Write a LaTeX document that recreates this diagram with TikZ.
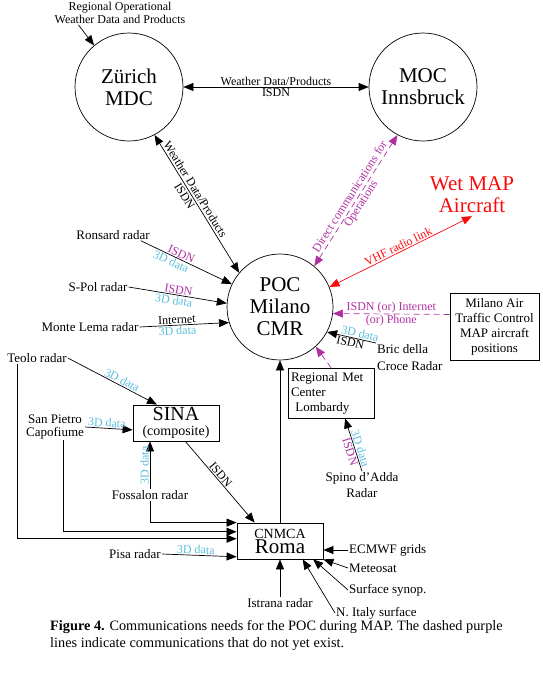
\documentclass[tikz,border=0pt]{standalone}
\usepackage{fontspec}
\setmainfont{Liberation Serif}
\usepackage{tikz}
\usetikzlibrary{arrows.meta, positioning}
\definecolor{mypurple}{RGB}{176,48,160}
\definecolor{mycyan}{RGB}{90,190,220}
\definecolor{myred}{RGB}{250,10,10}
\newcommand{\bigfont}{\fontsize{21}{22}\selectfont}
\newcommand{\txtfont}{\fontsize{13}{15}\selectfont}
\newcommand{\lblfont}{\fontsize{12}{13}\selectfont}
\tikzset{
  station/.style={circle, draw, line width=0.7pt, minimum size=108pt,
    inner sep=0pt, align=center, font=\bigfont},
  box/.style={rectangle, draw, line width=0.8pt, align=center,
    inner sep=2pt, font=\txtfont},
  source/.style={inner sep=1pt, align=center, font=\txtfont},
  planned/.style={color=mypurple, line width=0.7pt, dash pattern=on 6pt off 4pt},
  link/.style={line width=0.7pt},
  isdn/.style={font=\lblfont, text=mypurple, inner sep=1pt},
  data/.style={font=\lblfont, text=mycyan, inner sep=1pt},
  lbl/.style={font=\lblfont, inner sep=1pt}
}

\begin{document}
\begin{tikzpicture}[x=1pt, y=-1pt, >={Triangle[length=10pt,width=8pt]}]
  \useasboundingbox (0,0) rectangle (543,681);

  % Centres
  \node[station] (zurich) at (129,87) {Zürich\\MDC};
  \node[station] (moc) at (423,87) {MOC\\Innsbruck};
  \node[station, minimum size=106pt] (poc) at (280,307) {POC\\Milano\\CMR};
  \node[font=\bigfont, text=myred, align=center, inner sep=3pt] (wet) at (472,195) {Wet MAP\\Aircraft};
  \node[box, minimum width=89pt, minimum height=67pt] (atc) at (494.5,326.5)
    {Milano Air\\Traffic Control\\MAP aircraft\\positions};
  \node[box, minimum width=86pt, minimum height=50pt, text width=80pt, align=left] (rmc) at (331,393)
    {Regional Met\\Center\\\ Lombardy};
  \node[box, minimum width=86pt, minimum height=36pt, inner sep=0pt] (sina) at (176,423)
    {{\fontsize{20}{20}\selectfont SINA}\\{\fontsize{14}{15}\selectfont (composite)}};
  \node[box, minimum width=86pt, minimum height=36pt, inner sep=0pt] (roma) at (280,541)
    {{\fontsize{14}{14}\selectfont CNMCA}\\{\fontsize{21}{18}\selectfont Roma}};

  % Sources
  \node[source, font=\lblfont] (regional) at (120,13) {Regional Operational\\Weather Data and Products};
  \node[source] (ronsard) at (113,235) {Ronsard radar};
  \node[source] (spol) at (98,287) {S-Pol radar};
  \node[source] (lema) at (90,327) {Monte Lema radar};
  \node[source] (teolo) at (37,358) {Teolo radar};
  \node[source, font=\fontsize{13}{13}\selectfont] (sanpietro) at (55,427) {San Pietro\\Capofiume};
  \node[source] (fossalon) at (150,495) {Fossalon radar};
  \node[source] (pisa) at (135,554) {Pisa radar};
  \node[source] (istrana) at (280,603) {Istrana radar};
  \node[source, font=\fontsize{13}{17}\selectfont, align=left, anchor=north west] (bric) at (376,343) {Bric della\\Croce Radar};
  \node[source, font=\fontsize{13}{16}\selectfont] (spino) at (362,485) {Spino d'Adda\\Radar};
  \node[source, anchor=west] (ecmwf) at (348,550) {ECMWF grids};
  \node[source, anchor=west] (meteosat) at (348,568) {Meteosat};
  \node[source, anchor=west] (synop) at (348,590) {Surface synop.};
  \node[source, anchor=west] (nitaly) at (335,613) {N. Italy surface};

  % Links between centres
  \draw[link, <->] (zurich) -- (moc)
    node[lbl, midway, above] {Weather Data/Products}
    node[lbl, midway, below] {ISDN};
  \draw[link, <->] (zurich.298) -- (poc.140)
    node[lbl, pos=.42, sloped, above=1pt] {Weather Data/Products}
    node[lbl, pos=.42, sloped, below=1pt] {ISDN};
  \draw[planned, <->] (poc.50) -- (moc.242)
    node[midway, sloped, font=\lblfont, align=center, inner sep=0pt] {Direct communications for\\Operations};
  \draw[link, <->, myred] (poc.22) -- (wet.south)
    node[lbl, text=myred, midway, sloped, above] {VHF radio link};
  \draw[link, ->] ([xshift=25pt]regional.south west) -- (zurich.130);

  % Radars into POC
  \draw[link, ->] ([xshift=-10pt]ronsard.south east) -- (poc)
    node[isdn, pos=.42, sloped, above] {ISDN}
    node[data, pos=.36, sloped, below] {3D data};
  \draw[link, ->] (spol.east) -- (poc.176)
    node[isdn, pos=.5, sloped, above] {ISDN}
    node[data, pos=.47, sloped, below] {3D data};
  \draw[link, ->] (lema.east) -- (poc.197)
    node[lbl, pos=.42, sloped, above] {Internet}
    node[data, pos=.42, sloped, below] {3D data};
  \draw[link, ->] (bric.north west) -- (poc.332)
    node[data, pos=.35, sloped, above] {3D data}
    node[lbl, pos=.5, sloped, below] {ISDN};
  \draw[planned, ->] (atc.165) -- (poc.353)
    node[isdn, midway, above] {ISDN (or) Internet}
    node[isdn, midway, below] {(or) Phone};
  \draw[planned, ->] (rmc.north) -- (poc.312);
  \draw[link, ->] (spino.north) -- (rmc.299)
    node[data, pos=.4, sloped, above] {3D data}
    node[isdn, pos=.4, sloped, below] {ISDN};
  \draw[link, ->] (roma.north) -- (poc.south);

  % Radars into SINA
  \draw[link, ->] (teolo.east) -- (sina.136)
    node[data, pos=.58, sloped, above] {3D data};
  \draw[link, ->] (sanpietro.east) -- (sina.189)
    node[data, pos=.45, sloped, above] {3D data};
  \draw[link, ->] (fossalon.north) -- (fossalon.north |- sina.south)
    node[data, midway, sloped, above] {3D data};
  \draw[link, ->] (sina.297) -- (roma.144)
    node[lbl, pos=.45, sloped, above] {ISDN};

  % Feeds into Roma
  \draw[link, ->] (fossalon.south) |- (roma.north west);
  \draw[link, ->] ([xshift=8pt]sanpietro.south) |- (roma.168);
  \draw[link, ->] ([xshift=11pt]teolo.south west) |- (roma.177);
  \draw[link, ->] (pisa.east) -- (roma.200)
    node[data, pos=.45, sloped, above] {3D data};
  \draw[link, ->] (istrana.north) -- (roma.south);
  \draw[link, ->] (ecmwf.west) -- (ecmwf.west -| roma.east);
  \draw[link, ->] (meteosat.west) -- (roma.south east);
  \draw[link, ->] (synop.west) -- (roma.331);
  \draw[link, ->] (nitaly.west) -- (roma.321);

  % Caption
  \node[anchor=north west, align=left, inner sep=0pt, font=\fontsize{14.3}{17}\selectfont] (caption) at (50,620)
    {\textbf{Figure 4.} Communications needs for the POC during MAP. The dashed purple\\
     lines indicate communications that do not yet exist.};
\end{tikzpicture}
\end{document}
